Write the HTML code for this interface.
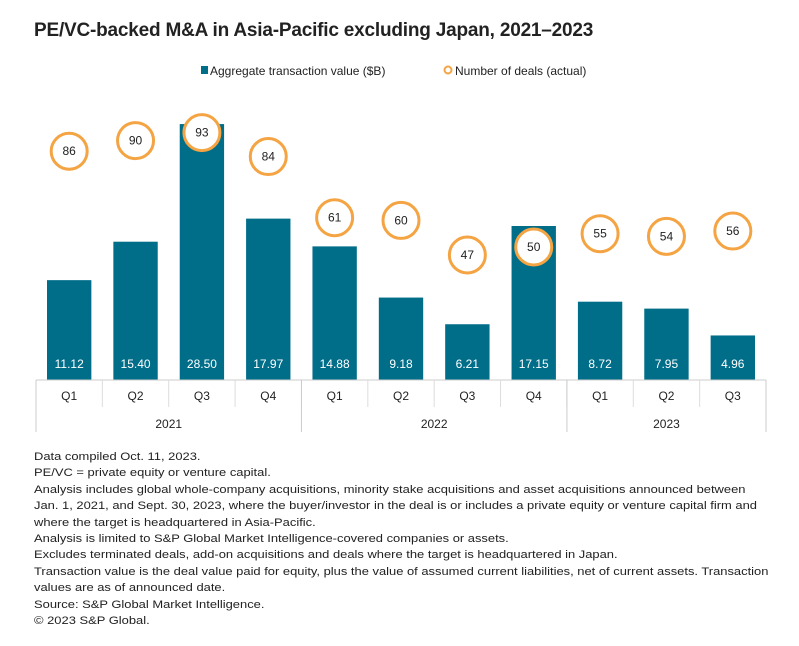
<!DOCTYPE html>
<html><head><meta charset="utf-8"><style>
body{margin:0;background:#fff;width:799px;height:646px;overflow:hidden;font-family:"Liberation Sans",sans-serif;}
#title{position:absolute;left:34px;top:20px;font-size:19px;font-weight:bold;color:#222;letter-spacing:-0.2px}
#notes{position:absolute;left:34px;top:449px;font-size:11.4px;color:#222;line-height:16.4px;width:680px;white-space:nowrap;transform:scaleX(1.135);transform-origin:0 0}
#notes p{margin:0}
</style></head><body>
<div id="title">PE/VC-backed M&amp;A in Asia-Pacific excluding Japan, 2021–2023</div>
<svg id="chart" width="799" height="445" style="position:absolute;left:0;top:0">
<g>
<rect x="201" y="66" width="7" height="8" fill="#006d89"/>
<text x="210" y="75" font-size="12" fill="#222">Aggregate transaction value ($B)</text>
<circle cx="448" cy="70" r="3.5" fill="none" stroke="#f4a443" stroke-width="2"/>
<text x="455" y="75" font-size="12" fill="#222">Number of deals (actual)</text>
</g>
<g id="marks"></g>
</svg>
<div id="notes">
<p>Data compiled Oct. 11, 2023.</p>
<p>PE/VC = private equity or venture capital.</p>
<p>Analysis includes global whole-company acquisitions, minority stake acquisitions and asset acquisitions announced between<br>Jan. 1, 2021, and Sept. 30, 2023, where the buyer/investor in the deal is or includes a private equity or venture capital firm and<br>where the target is headquartered in Asia-Pacific.</p>
<p>Analysis is limited to S&amp;P Global Market Intelligence-covered companies or assets.</p>
<p>Excludes terminated deals, add-on acquisitions and deals where the target is headquartered in Japan.</p>
<p>Transaction value is the deal value paid for equity, plus the value of assumed current liabilities, net of current assets. Transaction<br>values are as of announced date.</p>
<p>Source: S&amp;P Global Market Intelligence.</p>
<p>© 2023 S&amp;P Global.</p>
</div>
<script>
const quarters=["Q1","Q2","Q3","Q4","Q1","Q2","Q3","Q4","Q1","Q2","Q3"];
const years=["2021","2022","2023"];
const yearCounts=[4,4,3];
const values=[11.12,15.40,28.50,17.97,14.88,9.18,6.21,17.15,8.72,7.95,4.96];
const deals=[86,90,93,84,61,60,47,50,55,54,56];
const NS="http://www.w3.org/2000/svg";
const g=document.getElementById('marks');
const x0=36,x1=766,base=380,n=quarters.length,cw=(x1-x0)/n;
const xs=i=>x0+cw*i;
const yv=v=>base-v*8.98;
const yd=v=>base-v*2.66;
function mk(t,a){const e=document.createElementNS(NS,t);for(const k in a)e.setAttribute(k,a[k]);g.appendChild(e);return e;}
values.forEach((v,i)=>{
 const b=mk('rect',{x:xs(i)+11,y:yv(v),width:cw-22,height:base-yv(v),fill:'#006d89'});
 
 
 const t=mk('text',{x:xs(i)+cw/2,y:base-12,'text-anchor':'middle','font-size':12,fill:'#fff'});
 t.textContent=v.toFixed(2);
 
 
 const q=mk('text',{x:xs(i)+cw/2,y:400,'text-anchor':'middle','font-size':12,fill:'#222'});
 q.textContent=quarters[i];
 
 
});
mk('line',{x1:x0,x2:x1,y1:base,y2:base,stroke:'#ccc'});
for(let i=1;i<n;i++){mk('line',{x1:xs(i),x2:xs(i),y1:base,y2:407,stroke:'#ddd'});}
let c=0;
years.forEach((y,j)=>{
 mk('line',{x1:xs(c),x2:xs(c),y1:base,y2:432,stroke:'#ccc'});
 const t=mk('text',{x:xs(c+yearCounts[j]/2),y:428,'text-anchor':'middle','font-size':12,fill:'#222'});
 t.textContent=y;
 
 
 c+=yearCounts[j];
});
mk('line',{x1:x1,x2:x1,y1:base,y2:432,stroke:'#ccc'});
deals.forEach((d,i)=>{
 const cx=xs(i)+cw/2,cy=yd(d);
 const ci=mk('circle',{cx:cx,cy:cy,r:18,fill:'#fff',stroke:'#f4a443','stroke-width':3});
 
 
 const t=mk('text',{x:cx,y:cy+4,'text-anchor':'middle','font-size':12,fill:'#222'});
 t.textContent=d;
 
 
});
</script>
</body></html>
